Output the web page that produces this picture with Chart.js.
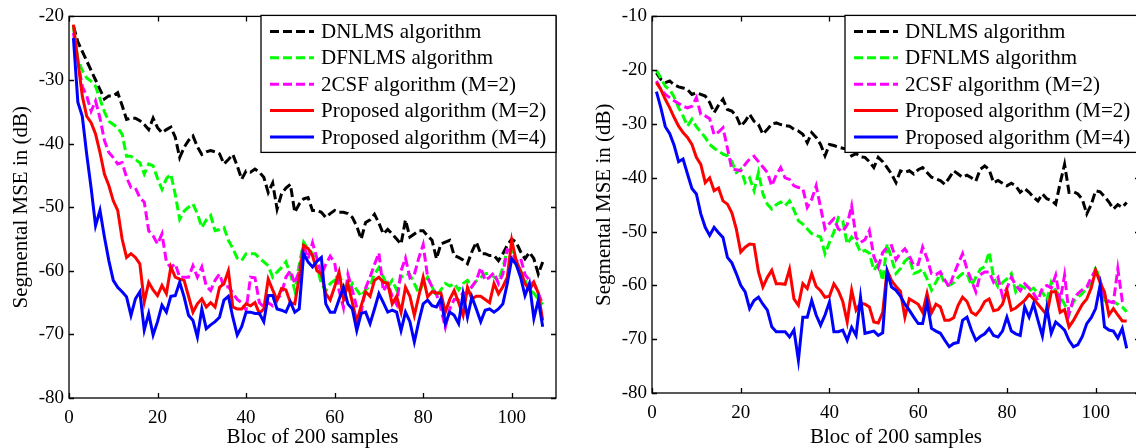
<!DOCTYPE html>
<html><head><meta charset="utf-8">
<script src="https://cdn.jsdelivr.net/npm/chart.js@4"></script>
<style>
html,body{margin:0;padding:0;background:#fff;overflow:hidden;width:1136px;height:448px;position:relative;}
.wrap{position:absolute;top:0;height:448px;width:568px;}
canvas{display:block;}
</style></head><body>
<div class="wrap" style="left:0px"><canvas id="c1" width="568" height="448"></canvas></div>
<div class="wrap" style="left:583px"><canvas id="c2" width="568" height="448"></canvas></div>
<script>
const blocks = [1,2,3,4,5,6,7,8,9,10,11,12,13,14,15,16,17,18,19,20,21,22,23,24,25,26,27,28,29,30,31,32,33,34,35,36,37,38,39,40,41,42,43,44,45,46,47,48,49,50,51,52,53,54,55,56,57,58,59,60,61,62,63,64,65,66,67,68,69,70,71,72,73,74,75,76,77,78,79,80,81,82,83,84,85,86,87,88,89,90,91,92,93,94,95,96,97,98,99,100,101,102,103,104,105,106,107];
const seriesNames = ['DNLMS algorithm','DFNLMS algorithm','2CSF algorithm (M=2)','Proposed algorithm (M=2)','Proposed algorithm (M=4)'];
const xTickValues = [0,20,40,60,80,100];
const yTicksLeft = [-80,-70,-60,-50,-40,-30,-20];
const yTicksRight = [-80,-70,-60,-50,-40,-30,-20,-10];

// ---- left panel ----
const leftDNLMS = [-21.5,-24,-25.5,-27,-28.5,-30,-31.5,-33,-32.5,-32.5,
-32,-34,-36.2,-36,-36,-36.4,-37,-37.8,-36,-37.5,
-38.3,-37.8,-37.4,-39,-42.2,-40.6,-39.5,-38.8,-40.5,-41.7,
-41.3,-41.1,-41.3,-41.6,-43.2,-42.5,-41.7,-43.5,-45.6,-44.3,
-44.5,-44,-44.5,-45.3,-47.7,-46.2,-50.3,-47.9,-47,-46.4,
-50.8,-49.5,-48.7,-48.5,-50.5,-50.5,-50.8,-51.6,-51,-50.5,
-50.8,-50.8,-51,-51.6,-53,-55,-52.4,-52,-51.1,-52.5,
-54.2,-53.5,-54.2,-55,-55.8,-52,-54.7,-54.2,-53.7,-53.7,
-54.5,-55.2,-58.1,-55.8,-55.5,-55.2,-57.6,-57.9,-58.3,-58.9,
-57,-55.5,-57.3,-57.3,-57.6,-57.6,-58.4,-57.3,-56,-55,
-55.5,-57,-58.1,-57.1,-58.1,-60.5,-58.6];
const leftDFNLMS = [-21.5,-26.8,-28.5,-29.7,-30.2,-31,-33,-35,-36.5,-37,
-37.5,-38.5,-42,-42,-42.5,-43,-44.8,-43.2,-43.5,-45.5,
-47.2,-45.5,-44.8,-48,-51.9,-50.6,-50,-49.5,-51,-53.2,
-52,-51.3,-53.7,-53.5,-53.2,-55.2,-56.5,-58,-58.4,-57.3,
-57.3,-57.3,-58,-58.6,-59.2,-61,-60.2,-59.5,-58.6,-60.5,
-63.1,-59,-55.5,-56.6,-57.3,-59.4,-62,-63.2,-62,-61.5,
-60.5,-62.5,-63.5,-62,-63,-64,-63,-62.4,-60.5,-59.5,
-61,-62.5,-61.5,-63,-61,-60.5,-60.6,-62,-63.5,-62,
-61,-62.5,-64,-63,-62,-62.4,-62,-63,-62,-61.5,
-62.5,-61.6,-61,-60.5,-60.3,-61,-61.5,-59.5,-56.7,-57,
-59,-60,-61.5,-63,-63.5,-64.5,-65.3];
const left2CSF = [-22.6,-27,-31,-32.5,-34.9,-33.3,-36,-39.5,-41.4,-42.2,
-43.2,-43,-45.3,-46.9,-47,-48.5,-49.2,-53.7,-54.5,-55.8,
-54.2,-58.6,-59.5,-58.9,-61,-61,-61,-59.2,-61,-59.4,
-62.4,-63.1,-61.5,-60.5,-62.6,-62.5,-63.5,-64.5,-65,-66.2,
-61,-61.1,-65,-65.7,-65,-65.5,-64.5,-63.6,-61,-60,
-62,-60,-55.9,-58.1,-55.6,-58,-60.6,-59,-57.7,-58.7,
-63.1,-65.8,-60.6,-63,-65.8,-66.5,-62.7,-61,-59,-57.2,
-63.2,-62,-64,-65.3,-60,-58,-61.1,-60.6,-58,-55.9,
-61,-62.5,-63.7,-66,-68.9,-66,-64.5,-64.5,-63.5,-63.5,
-62.5,-61.5,-59.5,-61.5,-61,-60.3,-62,-60.5,-56.7,-57,
-58.5,-58,-60.6,-61.5,-62,-63.5,-65.3];
const leftProp2 = [-21.3,-27,-32.5,-35.7,-36.7,-38.5,-41.4,-44.8,-46.6,-49,
-50.5,-55,-57.9,-57.3,-57.9,-58.9,-64.9,-61.8,-63,-63.9,
-62.3,-63.6,-59.4,-61,-61.3,-61.5,-64,-66.5,-65.2,-64.4,
-65.7,-65,-65.7,-62.6,-62,-60,-65.7,-66,-66,-65.2,
-65.5,-65,-66.7,-66,-61.3,-63,-64.6,-62.8,-63,-65,
-65.2,-61,-56,-56.5,-57.6,-60,-60.5,-63.6,-64.6,-62.5,
-60.2,-64.4,-62,-65,-68,-65.5,-63.3,-64,-61.5,-61,
-61.8,-62,-65.2,-64,-66.5,-62.6,-64,-67,-64,-61,
-64.1,-63.3,-63.5,-63.5,-66.5,-64.5,-63.1,-65,-67,-62.6,
-64.4,-64,-64,-64.5,-65,-62,-63.6,-62.5,-61,-55.2,
-58.4,-60,-62,-63,-61.8,-63.5,-67.8];
const leftProp4 = [-23.4,-33.5,-35.7,-41.7,-47,-52.9,-50.5,-54.7,-58.4,-61.5,
-62.6,-63.3,-64.1,-67,-64.4,-63.3,-69.3,-66.7,-70.1,-68,
-65.4,-66.5,-64,-63.9,-61.8,-64.1,-67,-67.8,-70.4,-66,
-69.1,-68.5,-68,-67.3,-64.6,-64,-67.3,-70.1,-68.8,-66.5,
-66.5,-66.7,-66.7,-68,-63.9,-63.9,-66,-66.2,-66.5,-64.9,
-66.5,-66,-57.3,-58.6,-59.4,-58.5,-57.9,-65.2,-66.5,-66.5,
-64.5,-62.6,-65.2,-66,-69.4,-66.7,-66.5,-68.3,-66,-63.6,
-65,-66.5,-66.2,-66.5,-69.4,-66.5,-68,-71.2,-68,-65.2,
-64.6,-65.5,-65.7,-64.4,-68.3,-66.5,-67,-68.3,-63.6,-67.3,
-64.1,-66,-68,-66.2,-66,-66.5,-66,-65.2,-62,-58.1,
-59,-61,-63.9,-62,-67.5,-64.6,-68.8];

// ---- right panel ----
const rightDNLMS = [-20.5,-21.7,-22.3,-22,-22.7,-23.1,-23.3,-23.6,-24.5,-24.2,
-24.5,-24.8,-26,-27.9,-26.5,-25.4,-27.3,-27.6,-28.5,-30.4,
-29.5,-28.2,-29.5,-30.1,-31.9,-31,-30,-29.8,-30.1,-30.3,
-30.4,-31,-31.3,-31.9,-33.5,-31.6,-32.5,-33.8,-35.9,-33.8,
-34,-34.3,-34.5,-34.7,-35.9,-35.5,-36.1,-36.2,-37,-38.1,
-36.2,-37,-38.1,-39.3,-40.9,-38.7,-39,-38.7,-39.3,-38.5,
-38.1,-39,-39.9,-40.2,-40.5,-41.2,-40,-38.7,-39.3,-39.9,
-39.5,-40,-40.6,-38.4,-37.8,-38.5,-40.9,-40.5,-41,-41.5,
-41,-41.5,-42.7,-42,-42.7,-43.6,-44.3,-43,-43.9,-44.2,
-44.9,-41,-37.5,-42.7,-42.6,-43,-44,-46.7,-45,-42.4,
-42.6,-43.5,-44.5,-45.8,-45,-45.5,-44.6];
const rightDFNLMS = [-20,-21.5,-23,-23.6,-25,-27,-28.5,-30.4,-29.1,-30.5,
-31.5,-32.5,-33.8,-34.5,-35,-35.6,-35.9,-37,-39,-38.4,
-40.9,-40,-42.4,-39,-43,-44.9,-45.8,-45,-44.5,-45.2,
-44.3,-46,-48,-48.6,-49.5,-50.4,-50.7,-51,-54.1,-52,
-50.1,-47.4,-48,-52.3,-51,-52,-53.8,-53.5,-54,-57.2,
-56,-59.1,-52.3,-55,-57.8,-56.9,-55.5,-54.8,-57.8,-57.5,
-57,-58.8,-60.9,-59.4,-57.8,-59.7,-60,-59.5,-58.5,-57.8,
-57.8,-60,-58.5,-57,-56.5,-53.8,-58.5,-60.3,-59.5,-58.8,
-57.8,-61.2,-60,-60.5,-61,-60.5,-61.5,-61.2,-62.8,-59.4,
-61,-62,-63.5,-65.5,-63,-62.2,-61.5,-60.5,-59.7,-56.6,
-59.1,-62.8,-63.5,-63,-63.5,-64,-64.9];
const right2CSF = [-22,-23.6,-24.5,-25.1,-25.7,-26.2,-26.7,-27,-26.7,-25.1,
-28.2,-28.5,-29,-32,-31.5,-30.7,-34.5,-38.4,-38.5,-38.7,
-37.5,-36.5,-36,-37,-38,-39,-41.5,-39.5,-38.1,-40,
-40.3,-41.5,-41.8,-42,-45.5,-44,-41.5,-45.5,-49.5,-48.5,
-47.6,-49.5,-50,-48.7,-45.2,-51.1,-52,-51.5,-49.8,-54.6,
-56.6,-53.9,-52.9,-52.6,-55.2,-54,-53.2,-54.5,-56.3,-56.1,
-52.9,-55,-57.8,-58,-57.5,-59,-60.3,-58,-56,-54.1,
-57,-59,-61.2,-58,-57.5,-57.5,-59.4,-58.5,-62,-60.5,
-58.5,-60,-61,-59.7,-60.5,-61.5,-62.8,-60.5,-60,-60.5,
-58.1,-62.8,-58.1,-65.2,-62.5,-61.5,-60.8,-60.3,-58.5,-57.2,
-59,-62.2,-63,-63.2,-56.9,-62.8,-62.5];
const rightProp2 = [-22.3,-23.6,-25.4,-27,-28.8,-30.4,-31.6,-32.5,-33.8,-36.2,
-37.5,-40.9,-40,-42.4,-41.9,-44.3,-44.9,-46.5,-49.5,-53.8,
-52.9,-52.3,-52.4,-57.5,-60.3,-58.5,-57.2,-59.7,-59.7,-59.8,
-57,-62.5,-63.7,-59.7,-60.6,-57.8,-60.2,-61,-62.2,-62,
-59.7,-61,-63,-66.8,-60.9,-64.6,-63.3,-63.5,-64,-66.8,
-67,-65,-57.2,-59.1,-60.2,-61.1,-65.9,-62.5,-63,-63.5,
-65,-61.5,-65.1,-63.5,-64,-66.5,-66.5,-66,-63.7,-62.2,
-63,-65,-65.5,-64.5,-63,-62.5,-64.7,-64.5,-63.5,-60.9,
-64.6,-64.2,-63.5,-62.8,-61.7,-62.5,-63.5,-64.5,-65.5,-61.2,
-61.2,-65,-64.5,-67.7,-66.5,-65,-63.5,-62.5,-60.5,-57.2,
-59.5,-61.2,-65.5,-64.3,-65.5,-66.6,-66.6];
const rightProp4 = [-24,-27,-30.5,-31.8,-34,-37,-36.5,-39.3,-42,-43,
-46.7,-49.2,-50.7,-49.2,-50.2,-51.1,-54.8,-55.8,-57.8,-60,
-61.2,-64.3,-62.8,-62.2,-63.5,-64.6,-67.7,-68.6,-68.6,-68.6,
-69.6,-68.3,-73.9,-65.9,-65.9,-62.8,-65.5,-67.4,-65.5,-63.1,
-68.6,-68.6,-68.3,-70.2,-67.8,-69.3,-62.2,-68.9,-68.7,-68.5,
-69.3,-68.8,-57.5,-60.3,-60.9,-62,-63.5,-64.6,-65.9,-67.1,
-67.1,-63.1,-68,-68.5,-68.9,-70.2,-71.4,-70.8,-70.6,-66.5,
-65.9,-68.3,-70.2,-69.5,-69,-68,-69.3,-69.6,-68.5,-65.9,
-68.5,-69,-69.3,-64,-65.9,-63.4,-66.5,-69.4,-64.1,-68.9,
-66.8,-67.5,-68.3,-70.2,-71.4,-71,-69.5,-67.1,-66,-64.3,
-60,-67.7,-68.3,-68.5,-69.8,-68,-71.7];

const seriesColors = ['#000000','#00ff00','#ff00ff','#ff0000','#0000ff'];
const seriesDash = [[9,4],[9,4],[9,4],[],[]];
const FONT = "'Liberation Serif', 'Times New Roman', serif";

const boxPlugin = {
  id: 'boxAndLegend',
  afterDatasetsDraw(chart) {
    const {ctx, chartArea: a, scales: {x, y}} = chart;
    ctx.save();
    ctx.strokeStyle = '#000';
    ctx.lineWidth = 1.3;
    ctx.setLineDash([]);
    ctx.strokeRect(a.left, a.top, a.right - a.left, a.bottom - a.top);
    const L = 5;
    ctx.beginPath();
    x.ticks.forEach(t => {
      const px = Math.round(x.getPixelForValue(t.value)) + 0.5;
      ctx.moveTo(px, a.bottom); ctx.lineTo(px, a.bottom - L);
      ctx.moveTo(px, a.top); ctx.lineTo(px, a.top + L);
    });
    y.ticks.forEach(t => {
      const py = Math.round(y.getPixelForValue(t.value)) + 0.5;
      ctx.moveTo(a.left, py); ctx.lineTo(a.left + L, py);
      ctx.moveTo(a.right, py); ctx.lineTo(a.right - L, py);
    });
    ctx.stroke();
    // legend box (right edge on the axes' right border)
    const bw = 295, bh = 137;
    const bx = a.right - bw, by = a.top - 1;
    ctx.fillStyle = '#fff';
    ctx.fillRect(bx, by, bw, bh);
    ctx.lineWidth = 1.3;
    ctx.strokeRect(bx, by, bw, bh);
    ctx.font = "21px " + FONT;
    ctx.textBaseline = 'middle';
    ctx.textAlign = 'left';
    chart.data.datasets.forEach((ds, i) => {
      const ly = by + 16 + i * 26.4;
      ctx.beginPath();
      ctx.strokeStyle = ds.borderColor;
      ctx.lineWidth = 3;
      ctx.setLineDash(ds.borderDash || []);
      ctx.moveTo(bx + 9, ly); ctx.lineTo(bx + 53, ly);
      ctx.stroke();
      ctx.setLineDash([]);
      ctx.fillStyle = '#000';
      ctx.fillText(ds.label, bx + 60, ly + 1);
    });
    ctx.restore();
  }
};

function makeChart(id, seriesVals, yMin, yMax, yTicks, padRight, xAxisH) {
  const datasets = seriesVals.map((vals, i) => ({
    label: seriesNames[i],
    data: vals.map((v, k) => ({x: blocks[k], y: v})),
    borderColor: seriesColors[i],
    borderDash: seriesDash[i],
    borderWidth: 3,
    pointRadius: 0,
    fill: false,
    tension: 0,
    order: 5 - i
  }));
  return new Chart(document.getElementById(id), {
    type: 'line',
    data: {datasets},
    options: {
      responsive: false,
      animation: false,
      devicePixelRatio: 1,
      layout: {padding: {top: 15, right: padRight, left: 0, bottom: 0}},
      plugins: {legend: {display: false}, tooltip: {enabled: false}},
      scales: {
        x: {
          type: 'linear', position: 'bottom', min: 0, max: 110,
          afterBuildTicks: s => { s.ticks = xTickValues.map(v => ({value: v})); },
          afterFit: s => { s.height = xAxisH; },
          grid: {display: false, drawTicks: false},
          border: {display: false},
          ticks: {color: '#000', font: {family: FONT, size: 19}, padding: 9, maxRotation: 0, autoSkip: false},
          title: {display: true, text: 'Bloc of 200 samples', color: '#000', font: {family: FONT, size: 21}, padding: {top: 0, bottom: -2}}
        },
        y: {
          type: 'linear', min: yMin, max: yMax,
          afterBuildTicks: s => { s.ticks = yTicks.map(v => ({value: v})); },
          afterFit: s => { s.width = 69; },
          grid: {display: false, drawTicks: false},
          border: {display: false},
          ticks: {color: '#000', font: {family: FONT, size: 19}, padding: 5, autoSkip: false},
          title: {display: true, text: 'Segmental MSE in (dB)', color: '#000', font: {family: FONT, size: 21}, padding: {top: 9, bottom: 0}}
        }
      }
    },
    plugins: [boxPlugin]
  });
}

makeChart('c1', [leftDNLMS, leftDFNLMS, left2CSF, leftProp2, leftProp4], -80, -20, yTicksLeft, 12, 50);
makeChart('c2', [rightDNLMS, rightDFNLMS, right2CSF, rightProp2, rightProp4], -80, -10, yTicksRight, 11, 55);
</script>
</body></html>
